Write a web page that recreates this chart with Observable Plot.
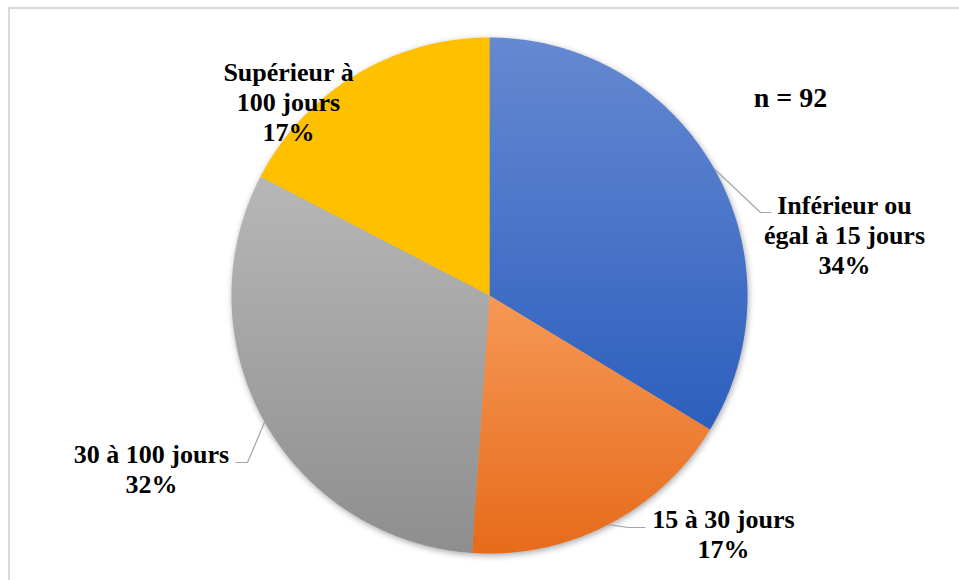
<!DOCTYPE html>
<html><head><meta charset="utf-8">
<script src="https://cdn.jsdelivr.net/npm/d3@7"></script>
<script src="https://cdn.jsdelivr.net/npm/@observablehq/plot@0.6"></script>
<style>
html,body{margin:0;padding:0;background:#fff;overflow:hidden;}
#wrap{position:relative;width:959px;height:580px;}
#wrap svg{position:absolute;left:0;top:0;}
#border{position:absolute;left:8px;top:7px;width:1000px;height:1000px;border:2px solid #dadada;pointer-events:none;box-sizing:border-box;}
</style></head><body><div id="wrap"></div>
<script>
// ---- data ----
const categories = ["Inférieur ou égal à 15 jours", "15 à 30 jours", "30 à 100 jours", "Supérieur à 100 jours"];
const labelLines = [["Inférieur ou", "égal à 15 jours"], ["15 à 30 jours"], ["30 à 100 jours"], ["Supérieur à", "100 jours"]];
const counts = [31, 16, 29, 16];
const sampleSize = 92;

// ---- styles / layout ----
function pickSerif() {
  const cands = ["Liberation Serif", "Tinos", "Times New Roman", "Times", "Nimbus Roman", "Nimbus Roman No9 L",
    "FreeSerif", "DejaVu Serif", "Noto Serif", "Bitstream Vera Serif", "PT Serif", "Georgia", "Source Serif Pro"];
  const ctx = document.createElement("canvas").getContext("2d");
  const s = "Supérieur à 100 jours WMiIl";
  const base = f => { ctx.font = `bold 40px ${f}`; return ctx.measureText(s).width; };
  const bm = base("monospace"), bs = base("sans-serif");
  for (const c of cands) {
    if (base(`"${c}", monospace`) !== bm && base(`"${c}", sans-serif`) !== bs) return `"${c}", serif`;
  }
  return "serif";
}
const serif = pickSerif();
const gradStops = [["#6589d1", "#2d5fbe"], ["#f69856", "#e66b1a"], ["#b7b7b7", "#8e8e8e"], ["#ffc000", "#ffc000"]];
const W = 959, H = 580, CX = 489, CY = 295, R = 258;
const toU = px => (px - CX) / R, toV = py => (CY - py) / R;
// label anchor (last-line baseline, centre) in pixels
const labelAnchor = [[844, 273], [723, 557], [151, 492], [288, 140]];
// leader elbows (pixels); null = no leader
const leaderPts = [[[760, 212], [771, 212]], [[628, 527], [645, 527]], [[247, 462], [235, 462]], null];
const nLabelPos = [790, 106];

// ---- build ----
const pie = d3.pie().sort(null).value(d => d)(counts);
const slices = [];
pie.forEach((a, i) => {
  const g = `url(#grad${i})`;
  slices.push({i, g, x: 0, y: 0});
  const steps = Math.max(2, Math.ceil((a.endAngle - a.startAngle) / (Math.PI / 360)));
  for (let k = 0; k <= steps; k++) {
    const t = a.startAngle + (a.endAngle - a.startAngle) * k / steps;
    slices.push({i, g, x: Math.sin(t), y: Math.cos(t)});
  }
  slices.push({i, g, x: 0, y: 0});
});

const labels = pie.map((a, i) => ({
  text: [...labelLines[i], Math.round(counts[i] / sampleSize * 100) + "%"].join("\n"),
  x: toU(labelAnchor[i][0]), y: toV(labelAnchor[i][1])
}));

const leaders = [];
pie.forEach((a, i) => {
  if (!leaderPts[i]) return;
  const m = (a.startAngle + a.endAngle) / 2;
  leaders.push({i, x: Math.sin(m), y: Math.cos(m)});
  leaderPts[i].forEach(p => leaders.push({i, x: toU(p[0]), y: toV(p[1])}));
});

const chart = Plot.plot({
  width: W, height: H,
  margin: 0,
  style: {fontFamily: serif},
  x: {domain: [toU(0), toU(W)], range: [0, W], axis: null},
  y: {domain: [toV(H), toV(0)], range: [H, 0], axis: null},
  color: {type: "identity"},
  marks: [
    Plot.line(slices, {x: "x", y: "y", z: "i", fill: "g", stroke: "none", curve: "linear"}),
    Plot.line(leaders, {x: "x", y: "y", z: "i", stroke: "#a6a6a6", strokeWidth: 1.2, strokeLinecap: "butt", strokeLinejoin: "miter"}),
    Plot.text(labels, {x: "x", y: "y", text: "text", lineAnchor: "bottom", lineHeight: 1.15,
      fontFamily: serif, fontWeight: "bold", fontSize: 26, fill: "#000", textAnchor: "middle"}),
    Plot.text([`n = ${sampleSize}`], {x: toU(nLabelPos[0]), y: toV(nLabelPos[1]), text: d => d, lineAnchor: "bottom",
      fontFamily: serif, fontWeight: "bold", fontSize: 28, fill: "#000"})
  ]
});

// gradients + shadow
const svg = d3.select(chart);
const defs = svg.insert("defs", ":first-child");
gradStops.forEach((s, i) => {
  const lg = defs.append("linearGradient").attr("id", `grad${i}`).attr("x1", 0).attr("y1", 0).attr("x2", 0).attr("y2", 1);
  lg.append("stop").attr("offset", "0%").attr("stop-color", s[0]);
  lg.append("stop").attr("offset", "100%").attr("stop-color", s[1]);
});
svg.select("g[aria-label=line]").style("filter", "drop-shadow(1px 2px 3px rgba(0,0,0,0.35))");
svg.selectAll("text").style("font-family", serif);

const wrap = document.getElementById("wrap");
wrap.appendChild(chart);
const b = document.createElement("div"); b.id = "border"; wrap.appendChild(b);
</script></body></html>
